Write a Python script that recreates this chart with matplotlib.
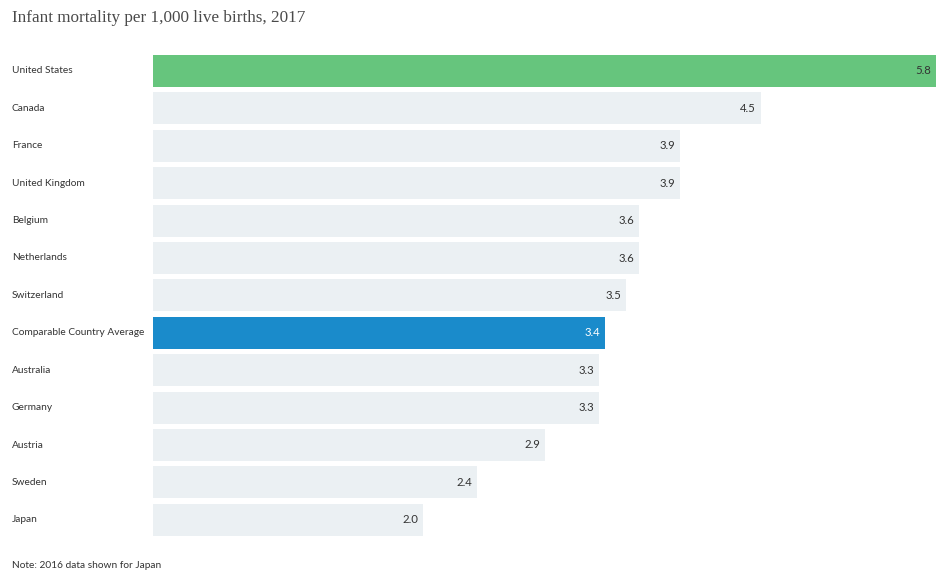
import matplotlib
matplotlib.use("Agg")
import matplotlib.pyplot as plt

countries = ["United States", "Canada", "France", "United Kingdom", "Belgium", "Netherlands",
             "Switzerland", "Comparable Country Average", "Australia", "Germany", "Austria",
             "Sweden", "Japan"]
values = [5.8, 4.5, 3.9, 3.9, 3.6, 3.6, 3.5, 3.35, 3.3, 3.3, 2.9, 2.4, 2.0]
labels = ["5.8", "4.5", "3.9", "3.9", "3.6", "3.6", "3.5", "3.4", "3.3", "3.3", "2.9", "2.4", "2.0"]

W, H = 936, 577
fig = plt.figure(figsize=(W / 100, H / 100), dpi=100)
ax_left = 153 / W
ax_top = 1 - 52.3 / H
ax_bottom = 1 - 538.5 / H
ax = fig.add_axes([ax_left, ax_bottom, 1 - ax_left, ax_top - ax_bottom])

colors = []
for c in countries:
    if c == "United States":
        colors.append("#66C57D")
    elif c == "Comparable Country Average":
        colors.append("#1A8BCB")
    else:
        colors.append("#EBF0F3")

y = list(range(len(countries)))
ax.barh(y, values, height=0.856, color=colors, edgecolor="none")
ax.set_xlim(0, 5.8)
ax.set_ylim(len(countries) - 0.5, -0.5)
ax.axis("off")

fam = ["Lato", "DejaVu Sans"]
for i, (v, lab, c) in enumerate(zip(values, labels, countries)):
    col = "white" if c == "Comparable Country Average" else "#333333"
    ax.annotate(lab, xy=(v, i), xytext=(-3.3, 0), textcoords="offset points",
                ha="right", va="center", fontsize=8.2, color=col, family=fam)
    ax.annotate(c, xy=(0, i), xycoords=("figure fraction", "data"), xytext=(12 * 0.72, 0),
                textcoords="offset points", ha="left", va="center", fontsize=7.3,
                color="#333333", family=fam)

fig.text(12 / W, 1 - 18 / H, "Infant mortality per 1,000 live births, 2017", ha="left", va="center",
         fontsize=12.3, color="#4a4a4a", family=["Liberation Serif", "DejaVu Serif"])
fig.text(12 / W, 1 - 566 / H, "Note: 2016 data shown for Japan", ha="left", va="center",
         fontsize=7.3, color="#333333", family=fam)

fig.savefig("out.png", dpi=100)
